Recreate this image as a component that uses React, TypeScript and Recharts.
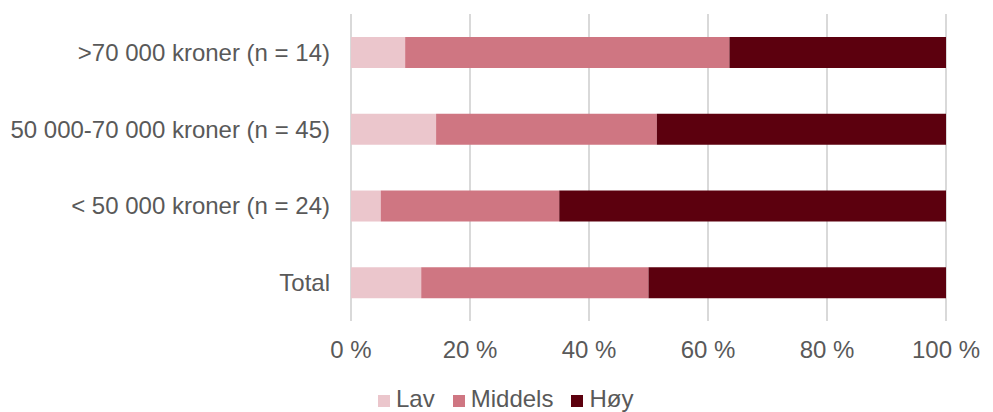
import React from "react";
import { BarChart, Bar, XAxis, YAxis, CartesianGrid, Legend } from "recharts";

const categories = [">70 000 kroner (n = 14)", "50 000-70 000 kroner (n = 45)", "< 50 000 kroner (n = 24)", "Total"];
const lav = [9.1, 14.3, 5.0, 11.8];
const middels = [54.5, 37.1, 30.0, 38.2];
const hoy = [36.4, 48.6, 65.0, 50.0];
const xTicks = [0, 20, 40, 60, 80, 100];

const seriesNames = ["Lav", "Middels", "Høy"];
const colors = ["#ebc6cc", "#cf7682", "#5c000e"];

const data = categories.map((c, i) => ({ name: c, Lav: lav[i], Middels: middels[i], "Høy": hoy[i] }));

const FONT = "'Liberation Sans', Arial, sans-serif";
const TEXT = "#595959";
const FS = 24;

const LegendContent = () => (
  <div style={{ display: "flex", alignItems: "flex-start", fontFamily: FONT, fontSize: FS, lineHeight: "28px", color: TEXT }}>
    {seriesNames.map((s, i) => (
      <div key={s} style={{ display: "flex", alignItems: "flex-start", marginRight: i < 2 ? 18 : 0 }}>
        <span style={{ display: "inline-block", width: 12, height: 12, background: colors[i], marginRight: 6, marginTop: 10 }} />
        <span>{s}</span>
      </div>
    ))}
  </div>
);

export default function App() {
  return (
    <div style={{ position: "absolute", left: 0, top: 0, width: 993, height: 412, background: "#fff" }}>
      <BarChart
        width={993}
        height={412}
        data={data}
        layout="vertical"
        barCategoryGap="30%"
        margin={{ top: 14, right: 47, left: 0, bottom: 4 }}
      >
        <CartesianGrid horizontal={false} stroke="#d9d9d9" strokeWidth={2} />
        <XAxis
          type="number"
          domain={[0, 100]}
          ticks={xTicks}
          tickFormatter={(v) => `${v} %`}
          axisLine={false}
          tickLine={false}
          tickSize={0}
          tickMargin={20}
          height={30}
          tick={{ fill: TEXT, fontSize: FS, fontFamily: FONT }}
        />
        <YAxis
          type="category"
          dataKey="name"
          width={351}
          axisLine={false}
          tickLine={false}
          tickSize={0}
          tickMargin={21}
          tick={{ fill: TEXT, fontSize: FS, fontFamily: FONT }}
        />
        <Legend
          verticalAlign="bottom"
          height={57}
          content={<LegendContent />}
          wrapperStyle={{ top: 385, left: 378, width: 400 }}
        />
        {seriesNames.map((s, i) => (
          <Bar key={s} dataKey={s} stackId="a" fill={colors[i]} isAnimationActive={false} />
        ))}
      </BarChart>
    </div>
  );
}
